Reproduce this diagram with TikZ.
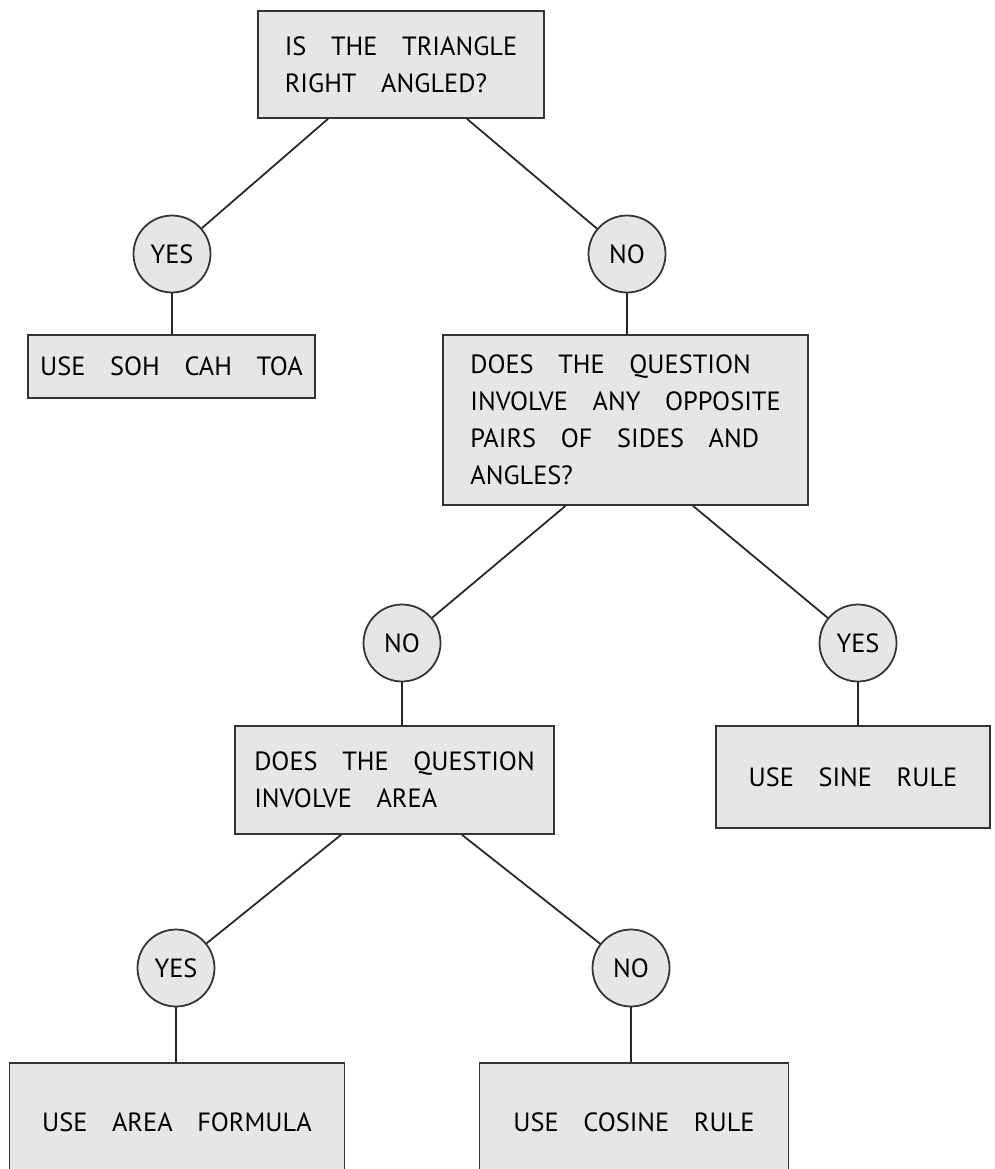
\documentclass[tikz,border=0pt]{standalone}
\usepackage{fontspec}
\setmainfont{PT Sans}[WordSpace=3.5]
\definecolor{boxgray}{HTML}{E6E6E6}
\tikzset{
  qbox/.style={draw=black!80, fill=boxgray, line width=1pt, align=left, inner sep=0pt},
  ansbox/.style={qbox, align=center},
  choice/.style={circle, draw=black!80, fill=boxgray, line width=1pt, minimum size=1.54cm, inner sep=0pt},
  link/.style={line width=1pt, black!85}
}
\begin{document}
\begin{tikzpicture}[x=0.02cm, y=-0.02cm, every node/.style={font=\fontsize{15}{21}\selectfont}]
    \useasboundingbox (0,0) rectangle (994,1169);
    \clip (0,0) rectangle (994,1169);
    %% questions
    \node[qbox, minimum width=5.72cm, minimum height=2.14cm] (right) at (401,64.5) {IS THE TRIANGLE\\RIGHT ANGLED?};
    \node[qbox, minimum width=7.3cm, minimum height=3.4cm] (pairs) at (625.5,420) {DOES THE QUESTION\\INVOLVE ANY OPPOSITE\\PAIRS OF SIDES AND\\ANGLES?};
    \node[qbox, minimum width=6.38cm, minimum height=2.16cm] (area) at (394.5,780) {DOES THE QUESTION\\INVOLVE AREA};
    %% answers
    \node[ansbox, minimum width=5.74cm, minimum height=1.26cm] (soh) at (171.5,366.5) {USE SOH CAH TOA};
    \node[ansbox, minimum width=5.48cm, minimum height=2.04cm] (sine) at (853,777) {USE SINE RULE};
    \node[ansbox, minimum width=6.7cm, minimum height=2.36cm] (formula) at (177,1122) {USE AREA FORMULA};
    \node[ansbox, minimum width=6.18cm, minimum height=2.36cm] (cosine) at (634,1122) {USE COSINE RULE};
    %% yes / no
    \node[choice] (yesA) at (172,254) {YES};
    \node[choice] (noA) at (627,254) {NO};
    \node[choice] (noB) at (402,643) {NO};
    \node[choice] (yesB) at (858,643) {YES};
    \node[choice] (yesC) at (176,968) {YES};
    \node[choice] (noC) at (631,968) {NO};
    %% links
    \draw[link] ([xshift=-1.46cm]right.south) -- (yesA);
    \draw[link] ([xshift=1.32cm]right.south) -- (noA);
    \draw[link] (yesA) -- (yesA |- soh.north);
    \draw[link] (noA) -- (noA |- pairs.north);
    \draw[link] ([xshift=-1.2cm]pairs.south) -- (noB);
    \draw[link] ([xshift=1.35cm]pairs.south) -- (yesB);
    \draw[link] (noB) -- (noB |- area.north);
    \draw[link] (yesB) -- (yesB |- sine.north);
    \draw[link] ([xshift=-1.07cm]area.south) -- (yesC);
    \draw[link] ([xshift=1.35cm]area.south) -- (noC);
    \draw[link] (yesC) -- (yesC |- formula.north);
    \draw[link] (noC) -- (noC |- cosine.north);
\end{tikzpicture}
\end{document}
